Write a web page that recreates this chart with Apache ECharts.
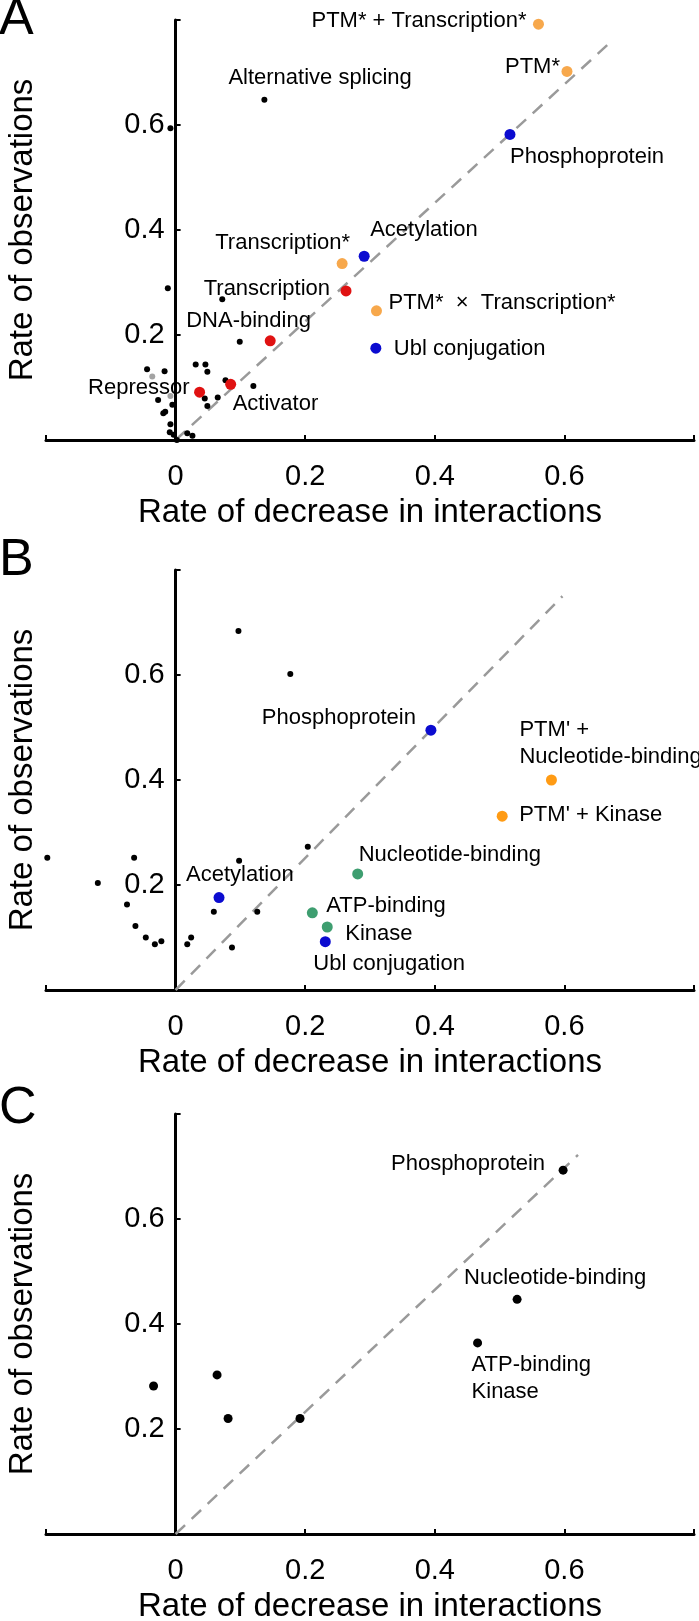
<!DOCTYPE html>
<html><head><meta charset="utf-8">
<script src="https://cdn.jsdelivr.net/npm/echarts@6/dist/echarts.min.js"></script>
<style>html,body{margin:0;padding:0;background:#fff}#c{width:699px;height:1621px}</style>
</head><body><div id="c"></div>
<script>
// ---------------- DATA ----------------
// Panel A
const A_black = [[-0.012,0.289],[0.072,0.268],[0.099,0.187],[0.031,0.144],[0.046,0.144],[0.049,0.130],
  [-0.044,0.135],[-0.017,0.131],[0.077,0.114],[0.120,0.103],[0.045,0.079],[0.065,0.081],[0.049,0.065],
  [-0.027,0.076],[-0.005,0.067],[-0.016,0.054],[-0.019,0.051],[-0.008,0.030],[-0.009,0.015],[-0.003,0.010],
  [0.002,0.000],[0.018,0.013],[0.026,0.008],[-0.008,0.594],[0.137,0.648]];
const A_dim = [[-0.036,0.121],[-0.008,0.084]];
const A_orange = [['PTM* + Transcription*',0.560,0.792],['PTM*',0.604,0.702],['Transcription*',0.257,0.336],['PTM*  ×  Transcription*',0.310,0.246]];
const A_red = [['Transcription',0.263,0.284],['DNA-binding',0.146,0.189],['Activator',0.085,0.106],['Repressor',0.037,0.091]];
const A_blue = [['Phosphoprotein',0.516,0.582],['Acetylation',0.291,0.350],['Ubl conjugation',0.309,0.175]];
const A_text = [['Alternative splicing',0.137,0.648]];
const A_diag = [[0,0],[0.666,0.752]];
// Panel B
const B_black = [[0.097,0.684],[0.177,0.602],[0.204,0.273],[0.098,0.246],[-0.198,0.252],[-0.064,0.252],
  [-0.120,0.204],[-0.075,0.163],[-0.062,0.122],[-0.046,0.100],[-0.032,0.087],[-0.022,0.093],
  [0.018,0.087],[0.024,0.100],[0.059,0.149],[0.126,0.149],[0.087,0.081]];
const B_blue = [['Phosphoprotein',0.394,0.495],['Acetylation',0.067,0.176],['Ubl conjugation',0.231,0.092]];
const B_green = [['Nucleotide-binding',0.281,0.221],['ATP-binding',0.211,0.147],['Kinase',0.234,0.120]];
const B_orange = [["PTM' +\nNucleotide-binding",0.580,0.400],["PTM' + Kinase",0.504,0.331]];
const B_diag = [[0,0],[0.597,0.750]];
// Panel C
const C_black = [[-0.034,0.282],[0.064,0.303],[0.081,0.220],[0.192,0.220]];
const C_named = [['Phosphoprotein',0.598,0.693],['Nucleotide-binding',0.527,0.447],['ATP-binding\nKinase',0.466,0.364]];
const C_diag = [[0,0],[0.621,0.722]];

const xTicks = ['0','0.2','0.4','0.6'];
const yTicks = ['0.2','0.4','0.6'];
const panelLetters = ['A','B','C'];
const xName = 'Rate of decrease in interactions';
const yName = 'Rate of observations';

// ---------------- LABEL PLACEMENT (pixels: dx, dy, align) ----------------
const place = {
  'A|PTM* + Transcription*':[-12,-3,'right'],
  'A|PTM*':[-7,-5,'right'],
  'A|Phosphoprotein':[0,22,'left'],
  'A|Acetylation':[6,-26,'left'],
  'A|Transcription*':[8,-21,'right'],
  'A|Transcription':[-16,-2,'right'],
  'A|PTM*  ×  Transcription*':[12,-8,'left'],
  'A|Ubl conjugation':[18,1,'left'],
  'A|DNA-binding':[-84,-20,'left'],
  'A|Activator':[2,20,'left'],
  'A|Repressor':[-10,-4,'right'],
  'A|Alternative splicing':[-36,-22,'left'],
  'B|Phosphoprotein':[-15,-12,'right'],
  "B|PTM' +\nNucleotide-binding":[-32,-37,'left'],
  "B|PTM' + Kinase":[17,-1,'left'],
  'B|Nucleotide-binding':[1,-19,'left'],
  'B|ATP-binding':[14,-7,'left'],
  'B|Kinase':[18,7,'left'],
  'B|Ubl conjugation':[-12,22,'left'],
  'B|Acetylation':[-33,-23,'left'],
  'C|Phosphoprotein':[-18,-6,'right'],
  'C|Nucleotide-binding':[-53,-21,'left'],
  'C|ATP-binding\nKinase':[-6,36,'left']
};

const FONT = '"Liberation Sans", Arial, Helvetica, sans-serif';
const gridTops = [20, 570, 1114];
const GH = 420, GL = 46, GW = 648;
const XMIN = -0.2, XMAX = 0.8;

function axisFmtX(v){ const s = (Math.round(v*10)/10).toFixed(1); const m={'0.0':'0','0.2':'0.2','0.4':'0.4','0.6':'0.6'}; return xTicks.includes(m[s]) ? m[s] : ''; }
function axisFmtY(v){ const s = (Math.round(v*10)/10).toFixed(1); return yTicks.includes(s) ? s : ''; }

const grids = [], xAxes = [], yAxes = [], series = [];
gridTops.forEach((t,i)=>{
  grids.push({left:GL, width:GW, top:t, height:GH, containLabel:false, outerBoundsMode:'none'});
  xAxes.push({gridIndex:i, type:'value', min:XMIN, max:XMAX, interval:0.2,
    axisLine:{onZero:true, lineStyle:{color:'#000', width:3}},
    axisTick:{inside:true, length:5, lineStyle:{color:'#000', width:2}},
    axisLabel:{fontSize:29, color:'#000', fontFamily:FONT, margin:22, formatter:axisFmtX},
    splitLine:{show:false},
    name:xName, nameLocation:'middle', nameGap:56,
    nameTextStyle:{fontSize:33, color:'#000', fontFamily:FONT}});
  yAxes.push({gridIndex:i, type:'value', min:0, max:0.8, interval:0.2,
    position:'left', offset: -(0 - XMIN) / (XMAX - XMIN) * GW,
    axisLine:{onZero:false, lineStyle:{color:'#000', width:3}},
    axisTick:{inside:true, length:5, lineStyle:{color:'#000', width:2}},
    axisLabel:{fontSize:29, color:'#000', fontFamily:FONT, margin:11, formatter:axisFmtY},
    splitLine:{show:false},
    name:yName, nameLocation:'middle', nameGap:136, nameRotate:90,
    nameTextStyle:{fontSize:33, color:'#000', fontFamily:FONT}});
});

function diag(i, d){
  series.push({type:'line', xAxisIndex:i, yAxisIndex:i, data:d, showSymbol:false, silent:true, z:1,
    lineStyle:{color:'#9a9a9a', width:2.5, type:[13,9]}});
}
function dots(i, d, color, size){
  series.push({type:'scatter', xAxisIndex:i, yAxisIndex:i, data:d, symbolSize:size, silent:true, z:2,
    itemStyle:{color:color, opacity:1}});
}
function named(i, panel, d, color, size){
  series.push({type:'scatter', xAxisIndex:i, yAxisIndex:i, symbolSize:size, silent:true, z:3,
    itemStyle:{color:color, opacity:1},
    data:d.map(r=>{
      const p = place[panel+'|'+r[0]] || [0,0,'left'];
      return {name:r[0], value:[r[1],r[2]], label:{show:true, position:'inside', offset:[p[0],p[1]], align:p[2], verticalAlign:'middle',
        formatter:r[0], fontSize:22, lineHeight:27, color:'#000', opacity:1, fontFamily:FONT}};
    })});
}

// Panel A
diag(0, A_diag);
dots(0, A_black, '#000', 6);
dots(0, A_dim, '#a3a3a3', 6);
named(0,'A', A_text, 'rgba(0,0,0,0)', 6);
named(0,'A', A_orange, '#F7A84C', 11);
named(0,'A', A_red, '#E01212', 11);
named(0,'A', A_blue, '#0B0BD0', 11);
// Panel B
diag(1, B_diag);
dots(1, B_black, '#000', 6);
named(1,'B', B_blue, '#0B0BD0', 11);
named(1,'B', B_green, '#3E9E70', 11);
named(1,'B', B_orange, '#FF9B14', 11);
// Panel C
diag(2, C_diag);
dots(2, C_black, '#000', 9);
named(2,'C', C_named, '#000', 9);

const chart = echarts.init(document.getElementById('c'), null, {renderer:'canvas'});
chart.setOption({
  animation:false,
  backgroundColor:'#fff',
  grid:grids, xAxis:xAxes, yAxis:yAxes, series:series,
  graphic: panelLetters.map((L,i)=>({type:'text', left:-1, top:[ -6, 535, 1083 ][i],
    style:{text:L, fontSize:52, fill:'#000', fontFamily:FONT}}))
});
</script></body></html>
